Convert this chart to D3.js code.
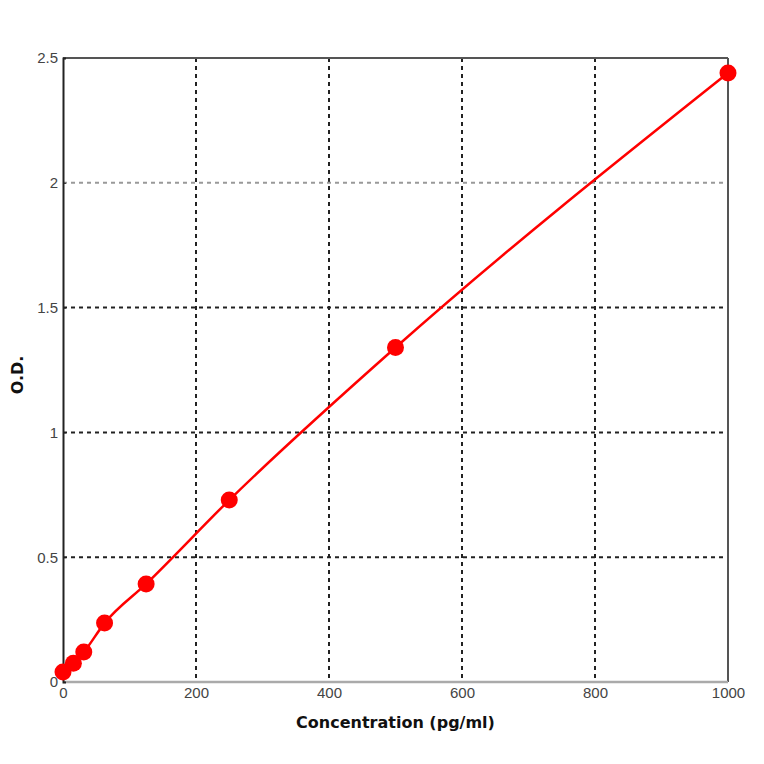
<!DOCTYPE html>
<html>
<head>
<meta charset="utf-8">
<script src="https://cdn.jsdelivr.net/npm/d3@7"></script>
<style>
  body { margin: 0; background: #fff; }
  svg { display: block; }
</style>
</head>
<body>
<div id="canvas"></div>
<script>
"use strict"

/* Data */
let concentration = [0, 15.6, 31.25, 62.5, 125, 250, 500, 1000];
let opticalDensity = [0.04, 0.075, 0.12, 0.236, 0.393, 0.729, 1.34, 2.44];
let xTicks = [0, 200, 400, 600, 800, 1000];
let yTicks = [0, 0.5, 1, 1.5, 2, 2.5];

/* Drawing configuration */
let svgWidth = 764;
let svgHeight = 764;
let plotLeft = 63, plotRight = 728, plotTop = 58, plotBottom = 682;

let svg = d3.select("#canvas")
    .append("svg")
    .attr("width", svgWidth)
    .attr("height", svgHeight);

let x = d3.scaleLinear().domain([0, 1000]).range([plotLeft, plotRight]);
let y = d3.scaleLinear().domain([0, 2.5]).range([plotBottom, plotTop]);

/* grid lines */
svg.selectAll(".vgrid")
    .data(xTicks.slice(1, -1))
    .join("line")
    .attr("x1", d => x(d)).attr("x2", d => x(d))
    .attr("y1", plotTop).attr("y2", plotBottom)
    .attr("stroke", "#222")
    .attr("stroke-width", 2)
    .attr("stroke-dasharray", "4,4");

svg.selectAll(".hgrid")
    .data(yTicks.slice(1, -1))
    .join("line")
    .attr("x1", plotLeft).attr("x2", plotRight)
    .attr("y1", d => y(d)).attr("y2", d => y(d))
    .attr("stroke", d => d === 2 ? "#999" : "#222")
    .attr("stroke-width", 2)
    .attr("stroke-dasharray", "4,4");

/* frame */
svg.append("line")
    .attr("x1", plotLeft).attr("x2", plotRight).attr("y1", plotTop).attr("y2", plotTop)
    .attr("stroke", "#555").attr("stroke-width", 2);
svg.append("line")
    .attr("x1", plotRight).attr("x2", plotRight).attr("y1", plotTop).attr("y2", plotBottom)
    .attr("stroke", "#555").attr("stroke-width", 2);
svg.append("line")
    .attr("x1", plotLeft).attr("x2", plotRight).attr("y1", plotBottom).attr("y2", plotBottom)
    .attr("stroke", "#aaa").attr("stroke-width", 2.5);

/* axes */
let yAxis = d3.axisLeft(y).tickValues(yTicks).tickSize(-3)
    .tickFormat(d3.format("~g"));
let yG = svg.append("g")
    .attr("transform", `translate(${plotLeft},0)`)
    .call(yAxis);
yG.select(".domain").attr("stroke", "#222").attr("stroke-width", 2);
yG.selectAll(".tick line").attr("stroke", "#222");
yG.selectAll(".tick text")
    .attr("x", -5)
    .attr("fill", "#444")
    .style("font-family", "Liberation Sans, sans-serif")
    .style("font-size", "15px");

let xAxis = d3.axisBottom(x).tickValues(xTicks).tickSize(0)
    .tickFormat(d3.format("d"));
let xG = svg.append("g")
    .attr("transform", `translate(0,${plotBottom})`)
    .call(xAxis);
xG.select(".domain").remove();
xG.selectAll(".tick text")
    .attr("y", 5)
    .attr("fill", "#444")
    .style("font-family", "Liberation Sans, sans-serif")
    .style("font-size", "15px");

/* curve */
let points = concentration.map((c, i) => ({ x: c, y: opticalDensity[i] }));

let line = d3.line()
    .x(d => x(d.x))
    .y(d => y(d.y))
    .curve(d3.curveMonotoneX);

svg.append("path")
    .datum(points)
    .attr("d", line)
    .attr("fill", "none")
    .attr("stroke", "#ff0000")
    .attr("stroke-width", 2.5);

svg.selectAll(".dot")
    .data(points)
    .join("circle")
    .attr("cx", d => x(d.x))
    .attr("cy", d => y(d.y))
    .attr("r", 8.5)
    .attr("fill", "#ff0000");

/* axis labels */
svg.append("text")
    .attr("x", (plotLeft + plotRight) / 2)
    .attr("y", 728)
    .attr("text-anchor", "middle")
    .style("font-family", "DejaVu Sans, sans-serif")
    .style("font-size", "16px")
    .style("font-weight", "bold")
    .attr("fill", "#111")
    .text("Concentration (pg/ml)");

svg.append("text")
    .attr("transform", "translate(23,375) rotate(-90)")
    .attr("text-anchor", "middle")
    .style("font-family", "DejaVu Sans, sans-serif")
    .style("font-size", "16px")
    .style("font-weight", "bold")
    .attr("fill", "#111")
    .text("O.D.");
</script>
</body>
</html>
